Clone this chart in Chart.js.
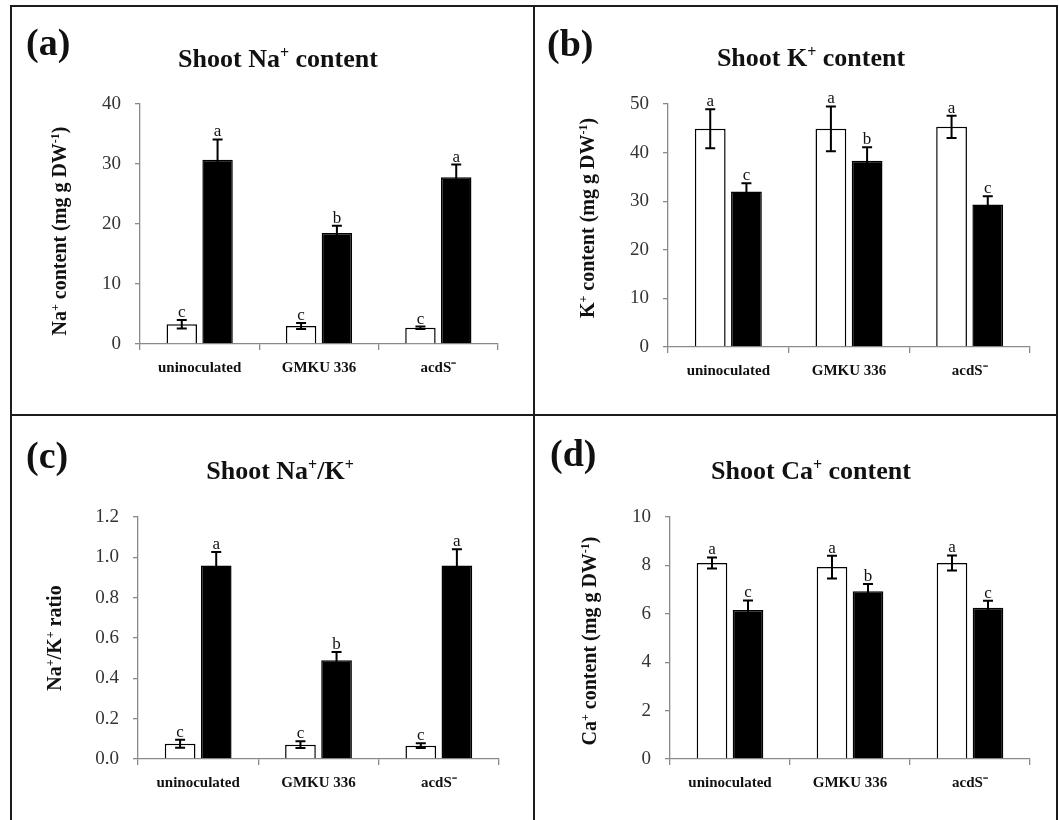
<!DOCTYPE html>
<html>
<head>
<meta charset="utf-8">
<script src="https://cdn.jsdelivr.net/npm/chart.js@4"></script>
<style>
  body { margin: 0; background: #fff; }
  #page { position: relative; width: 1059px; height: 820px; overflow: hidden; }
  #page canvas { position: absolute; }
  .line { position: absolute; background: #1c1c1c; z-index: 2; }
</style>
</head>
<body>
<div id="page">
  <div class="line" style="left:10px;top:5px;width:1048px;height:2px"></div>
  <div class="line" style="left:10px;top:5px;width:2px;height:815px"></div>
  <div class="line" style="left:1056px;top:5px;width:2px;height:815px"></div>
  <div class="line" style="left:533px;top:5px;width:2px;height:815px"></div>
  <div class="line" style="left:10px;top:414px;width:1048px;height:2px"></div>
  <canvas id="chartA" width="521" height="407" style="left:12px;top:7px"></canvas>
  <canvas id="chartB" width="521" height="407" style="left:535px;top:7px"></canvas>
  <canvas id="chartC" width="521" height="404" style="left:12px;top:416px"></canvas>
  <canvas id="chartD" width="521" height="404" style="left:535px;top:416px"></canvas>
</div>
<script>
// categories (strains)
const categories = ['uninoculated', 'GMKU 336', 'acdS\u207B'];

// (a) shoot Na+ content
const naWhite = [3.3, 3.0, 2.7];
const naWhiteErr = [0.7, 0.5, 0.2];
const naBlack = [30.7, 18.5, 27.8];
const naBlackErr = [3.4, 1.2, 2.1];
const naWhiteLetters = ['c', 'c', 'c'];
const naBlackLetters = ['a', 'b', 'a'];

// (b) shoot K+ content
const kWhite = [44.9, 44.9, 45.3];
const kWhiteErr = [4.0, 4.6, 2.3];
const kBlack = [32.0, 38.3, 29.3];
const kBlackErr = [1.7, 2.8, 1.7];
const kWhiteLetters = ['a', 'a', 'a'];
const kBlackLetters = ['c', 'b', 'c'];

// (c) shoot Na+/K+ ratio
const ratioWhite = [0.076, 0.071, 0.066];
const ratioWhiteErr = [0.02, 0.017, 0.012];
const ratioBlack = [0.96, 0.49, 0.96];
const ratioBlackErr = [0.066, 0.041, 0.08];
const ratioWhiteLetters = ['c', 'c', 'c'];
const ratioBlackLetters = ['a', 'b', 'a'];

// (d) shoot Ca+ content
const caWhite = [8.1, 7.93, 8.1];
const caWhiteErr = [0.23, 0.47, 0.31];
const caBlack = [6.16, 6.93, 6.25];
const caBlackErr = [0.39, 0.3, 0.29];
const caWhiteLetters = ['a', 'a', 'a'];
const caBlackLetters = ['c', 'b', 'c'];

const SERIF = "'Liberation Serif', 'Times New Roman', serif";
Chart.defaults.font.family = SERIF;
Chart.defaults.animation = false;

// draws text with superscript parts, centred on x
function drawRich(ctx, parts, size, cx, cy, rotated) {
  const supSize = Math.round(size * 0.62);
  let total = 0;
  parts.forEach(p => {
    ctx.font = 'bold ' + (p.sup ? supSize : size) + 'px ' + SERIF;
    p.w = ctx.measureText(p.t).width;
    total += p.w;
  });
  ctx.save();
  ctx.fillStyle = '#111';
  ctx.textAlign = 'left';
  ctx.textBaseline = 'alphabetic';
  ctx.translate(cx, cy);
  let base = 0;
  if (rotated) {
    ctx.rotate(-Math.PI / 2);
    base = size * 0.32;
  }
  let x = -total / 2;
  parts.forEach(p => {
    ctx.font = 'bold ' + (p.sup ? supSize : size) + 'px ' + SERIF;
    ctx.fillText(p.t, x, p.sup ? base - size * 0.36 : base);
    x += p.w;
  });
  ctx.restore();
}

// error bars, letters, panel label and titles
function decorations(spec) {
  return {
    id: 'decor' + spec.label,
    afterDatasetsDraw(chart) {
      const ctx = chart.ctx;
      const yScale = chart.scales.y;
      [spec.whiteErr, spec.blackErr].forEach((errs, di) => {
        const meta = chart.getDatasetMeta(di);
        const values = chart.data.datasets[di].data;
        const letters = di === 0 ? spec.whiteLetters : spec.blackLetters;
        meta.data.forEach((bar, i) => {
          const top = yScale.getPixelForValue(values[i] + errs[i]);
          const bot = yScale.getPixelForValue(values[i] - errs[i]);
          ctx.save();
          ctx.strokeStyle = '#000';
          ctx.lineWidth = 2;
          ctx.beginPath();
          ctx.moveTo(bar.x, top); ctx.lineTo(bar.x, bot);
          ctx.moveTo(bar.x - 5, top); ctx.lineTo(bar.x + 5, top);
          ctx.moveTo(bar.x - 5, bot); ctx.lineTo(bar.x + 5, bot);
          ctx.stroke();
          ctx.fillStyle = '#111';
          ctx.font = '17px ' + SERIF;
          ctx.textAlign = 'center';
          ctx.textBaseline = 'alphabetic';
          ctx.fillText(letters[i], bar.x, top - 3);
          ctx.restore();
        });
      });
    },
    afterDraw(chart) {
      const ctx = chart.ctx;
      ctx.save();
      ctx.fillStyle = '#111';
      ctx.font = 'bold 38px ' + SERIF;
      ctx.textAlign = 'left';
      ctx.textBaseline = 'alphabetic';
      ctx.fillText(spec.label, spec.labelPos[0], spec.labelPos[1]);
      ctx.restore();
      drawRich(ctx, spec.title, 26, spec.titlePos[0], spec.titlePos[1], false);
      drawRich(ctx, spec.yTitle, 20, spec.yTitlePos[0], spec.yTitlePos[1], true);
    }
  };
}

function makePanel(id, spec) {
  const canvas = document.getElementById(id);
  const W = canvas.width, H = canvas.height;
  const [l, t, r, b] = spec.area;
  const padLeft = 20, xHeight = 45;
  new Chart(canvas, {
    type: 'bar',
    data: {
      labels: categories,
      datasets: [
        { label: 'control', data: spec.white, backgroundColor: '#fff', borderColor: '#000', borderWidth: 1.5 },
        { label: 'salt', data: spec.black, backgroundColor: '#000', borderColor: '#000', borderWidth: 1.5 }
      ]
    },
    options: {
      responsive: false,
      animation: false,
      categoryPercentage: 0.6,
      barPercentage: 0.85,
      layout: { padding: { left: padLeft, top: t, right: W - r, bottom: H - b - xHeight } },
      plugins: { legend: { display: false }, title: { display: false }, tooltip: { enabled: false } },
      scales: {
        x: {
          offset: true,
          grid: { offset: true, drawOnChartArea: false, drawTicks: true, tickLength: 6, color: '#8a8a8a', lineWidth: 1.3 },
          border: { color: '#8a8a8a', width: 1.3 },
          ticks: { color: '#111', padding: 9, font: { family: SERIF, size: 15, weight: 'bold' } },
          afterFit: s => { s.height = xHeight; }
        },
        y: {
          min: 0,
          max: spec.max,
          grid: { drawOnChartArea: false, drawTicks: true, tickLength: 5, color: '#8a8a8a', lineWidth: 1.3 },
          border: { color: '#8a8a8a', width: 1.3 },
          ticks: {
            stepSize: spec.step,
            color: '#333',
            padding: 14,
            font: { family: SERIF, size: 19 },
            callback: v => spec.decimals ? v.toFixed(spec.decimals) : v
          },
          afterFit: s => { s.width = l - padLeft; }
        }
      }
    },
    plugins: [decorations(spec)]
  });
}

makePanel('chartA', {
  label: '(a)', labelPos: [14, 48],
  title: [{ t: 'Shoot Na' }, { t: '+', sup: true }, { t: ' content' }], titlePos: [266, 60],
  yTitle: [{ t: 'Na' }, { t: '+', sup: true }, { t: ' content (mg g DW' }, { t: '-1', sup: true }, { t: ')' }], yTitlePos: [48, 224],
  area: [128, 97, 486, 337], max: 40, step: 10,
  white: naWhite, whiteErr: naWhiteErr, black: naBlack, blackErr: naBlackErr,
  whiteLetters: naWhiteLetters, blackLetters: naBlackLetters
});

makePanel('chartB', {
  label: '(b)', labelPos: [12, 49],
  title: [{ t: 'Shoot K' }, { t: '+', sup: true }, { t: ' content' }], titlePos: [276, 59],
  yTitle: [{ t: 'K' }, { t: '+', sup: true }, { t: ' content (mg g DW' }, { t: '-1', sup: true }, { t: ')' }], yTitlePos: [53, 211],
  area: [133, 97, 495, 340], max: 50, step: 10,
  white: kWhite, whiteErr: kWhiteErr, black: kBlack, blackErr: kBlackErr,
  whiteLetters: kWhiteLetters, blackLetters: kBlackLetters
});

makePanel('chartC', {
  label: '(c)', labelPos: [14, 52],
  title: [{ t: 'Shoot Na' }, { t: '+', sup: true }, { t: '/K' }, { t: '+', sup: true }], titlePos: [268, 63],
  yTitle: [{ t: 'Na' }, { t: '+', sup: true }, { t: '/K' }, { t: '+', sup: true }, { t: ' ratio' }], yTitlePos: [43, 222],
  area: [126, 101, 487, 343], max: 1.2, step: 0.2, decimals: 1,
  white: ratioWhite, whiteErr: ratioWhiteErr, black: ratioBlack, blackErr: ratioBlackErr,
  whiteLetters: ratioWhiteLetters, blackLetters: ratioBlackLetters
});

makePanel('chartD', {
  label: '(d)', labelPos: [15, 50],
  title: [{ t: 'Shoot Ca' }, { t: '+', sup: true }, { t: ' content' }], titlePos: [276, 63],
  yTitle: [{ t: 'Ca' }, { t: '+', sup: true }, { t: ' content (mg g DW' }, { t: '-1', sup: true }, { t: ')' }], yTitlePos: [55, 225],
  area: [135, 101, 495, 343], max: 10, step: 2,
  white: caWhite, whiteErr: caWhiteErr, black: caBlack, blackErr: caBlackErr,
  whiteLetters: caWhiteLetters, blackLetters: caBlackLetters
});
</script>
</body>
</html>
